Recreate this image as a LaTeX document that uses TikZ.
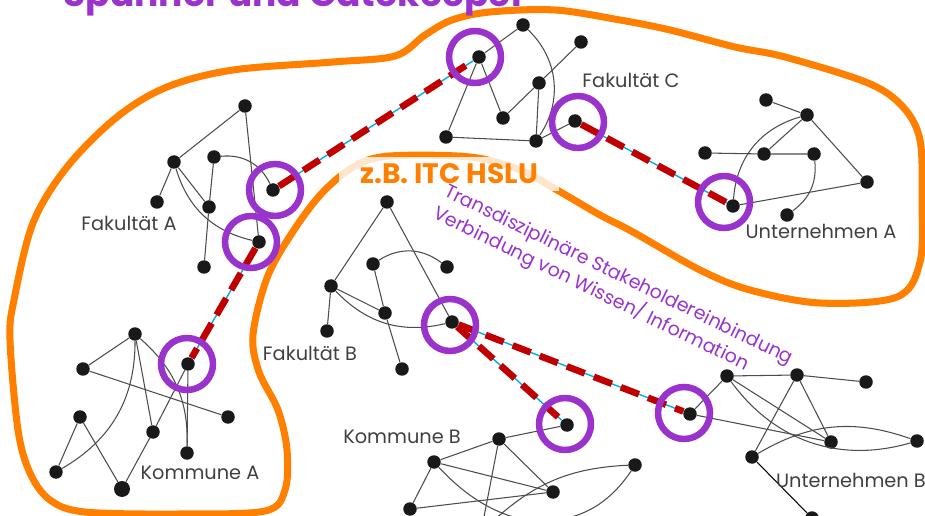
\documentclass[tikz,border=0pt]{standalone}
\usepackage{fontspec}
\setmainfont{Poppins}
\usetikzlibrary{positioning}
\definecolor{netpurple}{RGB}{153,51,204}
\definecolor{netorange}{RGB}{255,128,0}
\definecolor{netred}{RGB}{192,0,0}

\begin{document}
\begin{tikzpicture}[
		x=0.02cm, y=-0.02cm,
		dot/.style={circle, fill=black!90, inner sep=0pt, minimum size=0.27cm},
		edge/.style={draw=black!70, line width=0.6pt},
		ring/.style={circle, draw=netpurple, line width=3.7pt, inner sep=0pt, minimum size=1.04cm},
		bridge/.style={draw=netred, line width=3.8pt, dash pattern=on 11pt off 5.5pt, preaction={draw=cyan, solid, line width=0.8pt}},
		hull/.style={draw=netorange, line width=4pt, line join=round},
		lbl/.style={text=black!75, font=\fontsize{11}{13}\selectfont}
	]
	\useasboundingbox (0,0) rectangle (925,516);

	% orange outline
	\draw[hull] plot[smooth cycle, tension=0.55] coordinates {
		(10,340) (14,300) (33,223) (67,167) (117,117) (167,87) (233,70) (333,62)
		(395,56) (425,35) (452,20) (490,12) (555,10) (620,20) (670,30) (735,47)
		(785,57) (868,83) (903,107) (920,140) (922,200) (920,262) (897,297) (820,303)
		(750,290) (700,270) (633,232) (600,215) (557,190) (520,170) (470,157) (390,156)
		(355,166) (322,193) (292,233) (267,278) (253,335) (259,372) (278,410) (287,450)
		(285,490) (265,511) (180,514) (85,512) (50,500) (30,473) (18,430)};

	\node[text=netpurple, font=\bfseries\fontsize{20.5}{24}\selectfont, anchor=base] (title) at (295,7) {Spanner und Gatekeeper};
	\node[fill=white, fill opacity=0.8, text opacity=1, text=netorange, font=\bfseries\fontsize{16}{19}\selectfont,
		minimum width=4.4cm, minimum height=0.68cm] (itc) at (449,174) {z.B. ITC HSLU};
	\node[text=netpurple, font=\fontsize{10.8}{14.2}\selectfont, align=left, rotate=-26] (info) at (613,287)
		{Transdisziplinäre Stakeholdereinbindung\\Verbindung von Wissen/ Information};

	% Fakultaet A
	\node[dot] (fa1) at (245,106) {};
	\node[dot] (fa2) at (174,162) {};
	\node[dot] (fa3) at (214,157) {};
	\node[dot] (fa4) at (157,202) {};
	\node[dot] (fa5) at (209,207) {};
	\node[dot] (fa6) at (273,190) {};
	\node[dot] (fa7) at (259,242) {};
	\node[dot] (fa8) at (204,267) {};
	\draw[edge] (fa1)--(fa2);
	\draw[edge] (fa1)--(fa7);
	\draw[edge] (fa2)--(fa4);
	\draw[edge] (fa2)--(fa5);
	\draw[edge] (fa2) to[bend right=30] (fa7);
	\draw[edge] (fa3)--(fa5)--(fa8);
	\draw[edge] (fa3) to[bend left=35] (fa6);
	\node[lbl] (lfa) at (129,223) {Fakultät A};

	% Fakultaet C
	\node[dot] (fc1) at (523,25) {};
	\node[dot] (fc2) at (479,57) {};
	\node[dot] (fc3) at (581,42) {};
	\node[dot] (fc4) at (539,83) {};
	\node[dot] (fc5) at (503,118) {};
	\node[dot] (fc6) at (446,137) {};
	\node[dot] (fc7) at (536,141) {};
	\node[dot] (fc8) at (575,121) {};
	\draw[edge] (fc1)--(fc2);
	\draw[edge] (fc1) to[bend left=40] (fc7);
	\draw[edge] (fc2)--(fc6);
	\draw[edge] (fc2)--(fc5);
	\draw[edge] (fc5)--(fc4)--(fc3);
	\draw[edge] (fc4)--(fc7);
	\draw[edge] (fc6)--(fc7);
	\draw[edge] (fc7)--(fc8);
	\node[lbl] (lfc) at (631,80) {Fakultät C};

	% Unternehmen A
	\node[dot] (ua1) at (766,100) {};
	\node[dot] (ua2) at (807,115) {};
	\node[dot] (ua3) at (705,153) {};
	\node[dot] (ua4) at (764,154) {};
	\node[dot] (ua5) at (814,154) {};
	\node[dot] (ua6) at (867,182) {};
	\node[dot] (ua7) at (733,206) {};
	\node[dot] (ua8) at (787,215) {};
	\draw[edge] (ua1)--(ua2);
	\draw[edge] (ua2)--(ua4);
	\draw[edge] (ua2)--(ua6);
	\draw[edge] (ua2) to[bend right=35] (ua7);
	\draw[edge] (ua3)--(ua4)--(ua5);
	\draw[edge] (ua5) to[bend left=30] (ua8);
	\draw[edge] (ua7)--(ua6);
	\node[lbl] (lua) at (821,231) {Unternehmen A};

	% Fakultaet B
	\node[dot] (fb1) at (387,202) {};
	\node[dot] (fb2) at (373,264) {};
	\node[dot] (fb3) at (447,267) {};
	\node[dot] (fb4) at (331,286) {};
	\node[dot] (fb5) at (385,313) {};
	\node[dot] (fb6) at (452,322) {};
	\node[dot] (fb7) at (327,331) {};
	\node[dot] (fb8) at (402,369) {};
	\draw[edge] (fb1)--(fb4);
	\draw[edge] (fb1)--(fb6);
	\draw[edge] (fb2) to[bend left=35] (fb3);
	\draw[edge] (fb2)--(fb5)--(fb8);
	\draw[edge] (fb4)--(fb5);
	\draw[edge] (fb4) to[bend right=30] (fb6);
	\draw[edge] (fb4)--(fb7);
	\node[lbl] (lfb) at (310,353) {Fakultät B};

	% Kommune A
	\node[dot] (ka1) at (135,334) {};
	\node[dot] (ka2) at (83,369) {};
	\node[dot] (ka3) at (188,364) {};
	\node[dot] (ka4) at (228,417) {};
	\node[dot] (ka5) at (80,417) {};
	\node[dot] (ka6) at (153,432) {};
	\node[dot] (ka7) at (187,453) {};
	\node[dot] (ka8) at (56,472) {};
	\node[dot, minimum size=0.32cm] (ka9) at (122,489) {};
	\draw[edge] (ka1)--(ka2);
	\draw[edge] (ka1)--(ka6);
	\draw[edge] (ka1) to[bend left=30] (ka8);
	\draw[edge] (ka1) to[bend left=25] (ka7);
	\draw[edge] (ka2)--(ka4);
	\draw[edge] (ka3)--(ka7);
	\draw[edge] (ka3)--(ka6)--(ka9);
	\draw[edge] (ka5)--(ka8);
	\draw[edge] (ka5)--(ka9);
	\node[lbl] (lka) at (200,473) {Kommune A};

	% Kommune B
	\node[dot] (kb1) at (567,425) {};
	\node[dot] (kb2) at (499,439) {};
	\node[dot] (kb3) at (434,462) {};
	\node[dot] (kb4) at (635,465) {};
	\node[dot] (kb5) at (553,492) {};
	\node[dot] (kb6) at (410,509) {};
	\coordinate (kbo1) at (483,522);
	\coordinate (kbo2) at (492,522);
	\coordinate (kbo3) at (545,522);
	\coordinate (kbo4) at (580,524);
	\draw[edge] (kb1)--(kb2);
	\draw[edge] (kb2)--(kb3);
	\draw[edge] (kb2)--(kb5);
	\draw[edge] (kb2)--(kbo1);
	\draw[edge] (kb3)--(kb6);
	\draw[edge] (kb3)--(kb5);
	\draw[edge] (kb3) to[bend right=25] (kbo4);
	\draw[edge] (kb6)--(kb5);
	\draw[edge] (kb4) to[bend right=20] (kbo2);
	\draw[edge] (kb4) to[bend left=25] (kbo3);
	\node[lbl] (lkb) at (402,437) {Kommune B};

	% Unternehmen B
	\node[dot] (ub1) at (690,414) {};
	\node[dot] (ub2) at (727,376) {};
	\node[dot] (ub3) at (797,375) {};
	\node[dot] (ub4) at (866,382) {};
	\node[dot] (ub5) at (831,442) {};
	\node[dot] (ub6) at (917,441) {};
	\node[dot] (ub7) at (752,457) {};
	\node[dot] (ub8) at (812,518) {};
	\draw[edge] (ub1)--(ub2);
	\draw[edge] (ub2)--(ub3);
	\draw[edge] (ub3)--(ub4);
	\draw[edge] (ub2)--(ub5);
	\draw[edge] (ub2) to[bend right=35] (ub6);
	\draw[edge] (ub3)--(ub7);
	\draw[edge] (ub3)--(ub5);
	\draw[edge] (ub1)--(ub5);
	\draw[edge] (ub7) to[bend left=25] (ub6);
	\draw[edge, black] (ub7)--(ub8);
	\node[lbl] (lub) at (851,480) {Unternehmen B};

	% spanner links
	\draw[bridge] (fa6)--(fc2);
	\draw[bridge] (fa7)--(ka3);
	\draw[bridge] (fc8)--(ua7);
	\draw[bridge] (fb6)--(kb1);
	\draw[bridge] (fb6)--(ub1);

	% gatekeeper rings
	\node[ring] (rfa6) at (275,190) {};
	\node[ring] (rfa7) at (251,242) {};
	\node[ring] (rfc2) at (475,57) {};
	\node[ring] (rfc8) at (578,122) {};
	\node[ring] (rua7) at (724,202) {};
	\node[ring] (rfb6) at (450,325) {};
	\node[ring] (rka3) at (187,364) {};
	\node[ring] (rkb1) at (565,424) {};
	\node[ring] (rub1) at (684,413) {};
\end{tikzpicture}
\end{document}
